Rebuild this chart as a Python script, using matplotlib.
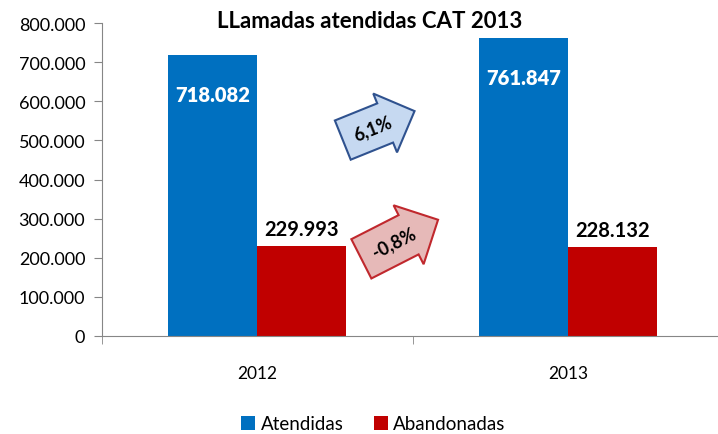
import matplotlib
matplotlib.use("Agg")
import matplotlib.pyplot as plt
import numpy as np

years = ["2012", "2013"]
atendidas = [718082, 761847]
abandonadas = [229993, 228132]
var_atendidas = "6,1%"
var_abandonadas = "-0,8%"

def fmt(v):
    return f"{v:,}".replace(",", ".")

plt.rcParams['font.family'] = ['Lato', 'DejaVu Sans']

fig = plt.figure(figsize=(7.18, 4.35), dpi=100)
ax = fig.add_axes([0.142, 0.2253, 0.866, 0.7195])

x = np.arange(len(years))
w = 0.286
b1 = ax.bar(x - w / 2, atendidas, w, color="#0070C0", label="Atendidas")
b2 = ax.bar(x + w / 2, abandonadas, w, color="#C00000", label="Abandonadas")

for rect, v in zip(b1, atendidas):
    ax.text(rect.get_x() + rect.get_width() / 2, v - 100000, fmt(v),
            ha="center", va="center", color="white", fontsize=14.5, fontweight="heavy")
for rect, v in zip(b2, abandonadas):
    ax.text(rect.get_x() + rect.get_width() / 2, v + 18000, fmt(v),
            ha="center", va="bottom", color="black", fontsize=14.5, fontweight="bold")

ax.set_xlim(-0.5, 1.5)
ax.set_ylim(0, 800000)
ax.set_yticks(np.arange(0, 800001, 100000))
ax.set_yticklabels([fmt(v) for v in range(0, 800001, 100000)], fontsize=13)
ax.set_xticks(x)
ax.set_xticklabels(years, fontsize=12.5)
ax.set_xticks([-0.5, 0.5, 1.5], minor=True)
ax.tick_params(axis="x", which="major", length=0, pad=21)
ax.tick_params(axis="x", which="minor", length=6, color="#868686", direction="out")
ax.tick_params(axis="y", length=6, color="#868686", pad=6)
for s in ["top", "right"]:
    ax.spines[s].set_visible(False)
for s in ["left", "bottom"]:
    ax.spines[s].set_color("#868686")

fig.text(0.515, 0.95, "LLamadas atendidas CAT 2013", ha="center", va="center",
         fontsize=16, fontweight="bold")

ax.text(0.436, 0.665, var_atendidas, transform=ax.transAxes, rotation=22,
        ha="center", va="center", fontsize=13, fontweight="bold",
        bbox=dict(boxstyle="rarrow,pad=0.7", fc="#C6D9F1", ec="#2F528F", lw=1.5))
ax.text(0.47, 0.3, var_abandonadas, transform=ax.transAxes, rotation=27,
        ha="center", va="center", fontsize=13, fontweight="bold",
        bbox=dict(boxstyle="rarrow,pad=0.75", fc="#E6B9B8", ec="#C0282D", lw=1.5))

fig.legend(loc="lower center", bbox_to_anchor=(0.52, -0.035), ncol=2, frameon=False,
           fontsize=13.5, handlelength=0.75, handleheight=0.75, handletextpad=0.3,
           columnspacing=1.6)

fig.savefig("out.png", dpi=100)
